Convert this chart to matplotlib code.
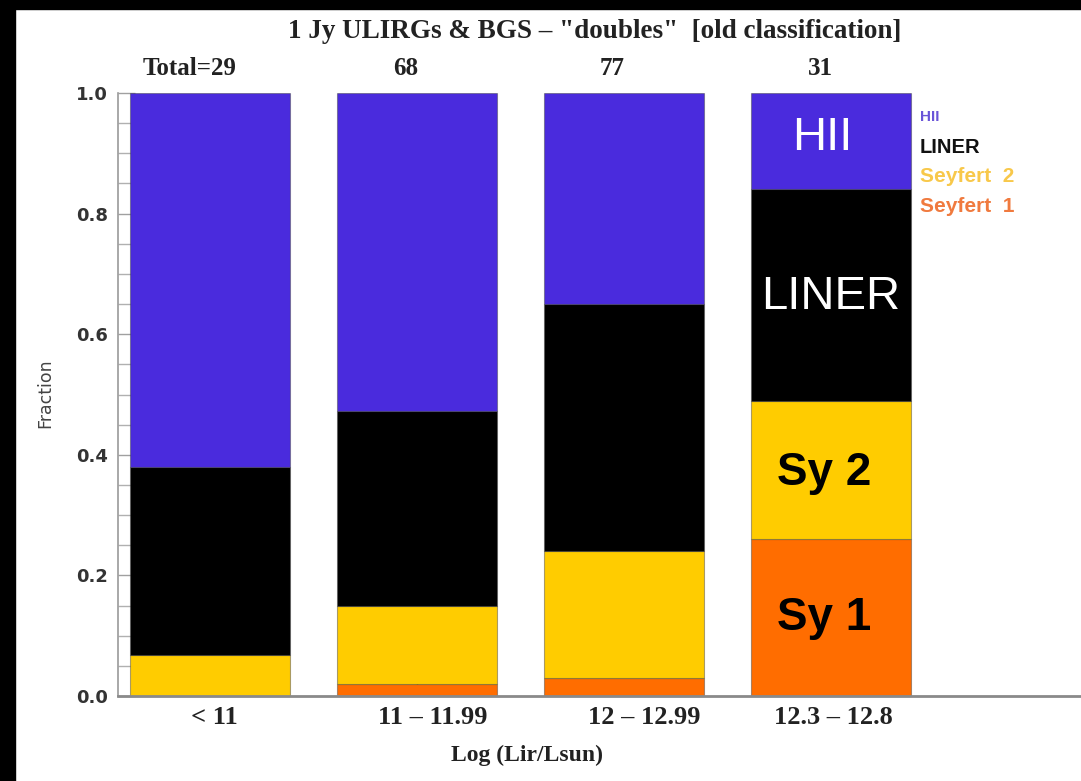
import matplotlib
matplotlib.use("Agg")
import matplotlib.pyplot as plt
from matplotlib.patches import Rectangle
from matplotlib.ticker import MultipleLocator

# Luminosity bins and sample sizes
bins = ["< 11", "11 – 11.99", "12 – 12.99", "12.3 – 12.8"]
totals = ["Total=29", "68", "77", "31"]

# Fraction of each spectral class per bin (stacked bottom to top)
seyfert1 = [0.000, 0.020, 0.030, 0.260]
seyfert2 = [0.068, 0.130, 0.210, 0.230]
liner = [0.312, 0.322, 0.410, 0.350]
hii = [0.620, 0.528, 0.350, 0.160]

classes = ["Seyfert 1", "Seyfert 2", "LINER", "HII"]
colors = {"Seyfert 1": "#ff6d00", "Seyfert 2": "#ffcc00",
          "LINER": "#000000", "HII": "#4a2bdd"}
series = {"Seyfert 1": seyfert1, "Seyfert 2": seyfert2,
          "LINER": liner, "HII": hii}

W, H = 1081, 781
fig = plt.figure(figsize=(W / 100, H / 100), dpi=100)
fig.patch.set_facecolor("white")

ax = fig.add_axes([118 / W, 85 / H, (W - 118) / W, 603 / H])
ax.set_facecolor("white")

x = list(range(len(bins)))
bottom = [0.0] * len(bins)
for cls in classes:
    vals = series[cls]
    ax.bar(x, vals, width=0.77, bottom=bottom, color=colors[cls],
           edgecolor=(0.25, 0.25, 0.25, 0.45), linewidth=0.8, zorder=2)
    bottom = [b + v for b, v in zip(bottom, vals)]

ax.set_xlim(-0.444, 4.208)
ax.set_ylim(0, 1.0)

for side in ("top", "right"):
    ax.spines[side].set_visible(False)
ax.spines["left"].set_color("#9a9a9a")
ax.spines["bottom"].set_color("#8a8a8a")
ax.spines["left"].set_linewidth(1.2)
ax.spines["bottom"].set_linewidth(2.0)

ax.yaxis.set_major_locator(MultipleLocator(0.2))
ax.yaxis.set_minor_locator(MultipleLocator(0.05))
ax.tick_params(axis="y", which="major", direction="in", length=12,
               width=1.0, color="#a0a0a0", pad=7)
ax.tick_params(axis="y", which="minor", direction="in", length=9,
               width=1.0, color="#b0b0b0")
ax.set_yticks([0, 0.2, 0.4, 0.6, 0.8, 1.0])
ax.set_yticklabels(["0.0", "0.2", "0.4", "0.6", "0.8", "1.0"],
                   fontsize=13, fontweight="bold", color="#333333",
                   family="DejaVu Sans")

ax.set_xticks(x)
ax.set_xticklabels([""] * len(bins))
ax.tick_params(axis="x", direction="in", length=12, width=1.0,
               color="#9a8a50")

# category labels and sample sizes
label_x = [0.02, 1.077, 2.097, 3.014]
total_x = [-0.097, 0.947, 1.942, 2.947]
xt = ax.get_xaxis_transform()
serif = "Liberation Serif"
for lx, lab in zip(label_x, bins):
    ax.text(lx, -0.036, lab, transform=xt, ha="center", va="center",
            fontsize=19, fontweight="bold", family=serif, color="#222222")
for tx, tot in zip(total_x, totals):
    ax.text(tx, 1.041, tot, transform=xt, ha="center", va="center",
            fontsize=18, fontweight="bold", family=serif, color="#222222")

ax.text(1.53, -0.098, "Log (Lir/Lsun)", transform=xt, ha="center",
        va="center", fontsize=17, fontweight="bold", family=serif,
        color="#222222")
fig.text(45 / W, 1 - 393 / H, "Fraction", rotation=90, ha="center",
         va="center", fontsize=12.5, color="#444444", family="DejaVu Sans")

fig.text(595 / W, 1 - 31 / H,
         '1 Jy ULIRGs & BGS – "doubles"  [old classification]',
         ha="center", va="center", fontsize=19.5, fontweight="bold",
         family=serif, color="#222222")

# legend entries beside the last bar
leg = [("HII", "#6a55d8", 11, 0.960), ("LINER", "#111111", 14.5, 0.910),
       ("Seyfert  2", "#f8c84a", 15, 0.861), ("Seyfert  1", "#f07a3e", 15, 0.811)]
for txt, col, fs, yy in leg:
    ax.text(3.43, yy, txt, ha="left", va="center", fontsize=fs,
            fontweight="bold", color=col, family="Liberation Sans")

# class names inside the last bar
ax.text(2.957, 0.925, "HII", ha="center", va="center", fontsize=34,
        color="white", family="Liberation Sans", zorder=3)
ax.text(3.0, 0.662, "LINER", ha="center", va="center", fontsize=34,
        color="white", family="Liberation Sans", zorder=3)
ax.text(2.739, 0.37, "Sy 2", ha="left", va="center", fontsize=33,
        fontweight="bold", color="black", family="Liberation Sans", zorder=3)
ax.text(2.739, 0.129, "Sy 1", ha="left", va="center", fontsize=33,
        fontweight="bold", color="black", family="Liberation Sans", zorder=3)

# dark frame bands along the top and left edges
fig.patches.append(Rectangle((0, 0), 15 / W, 1, transform=fig.transFigure,
                             color="black", zorder=10))
fig.patches.append(Rectangle((0, 1 - 9 / H), 1, 9 / H,
                             transform=fig.transFigure, color="black",
                             zorder=10))

fig.savefig("out.png", dpi=100, facecolor="white")
